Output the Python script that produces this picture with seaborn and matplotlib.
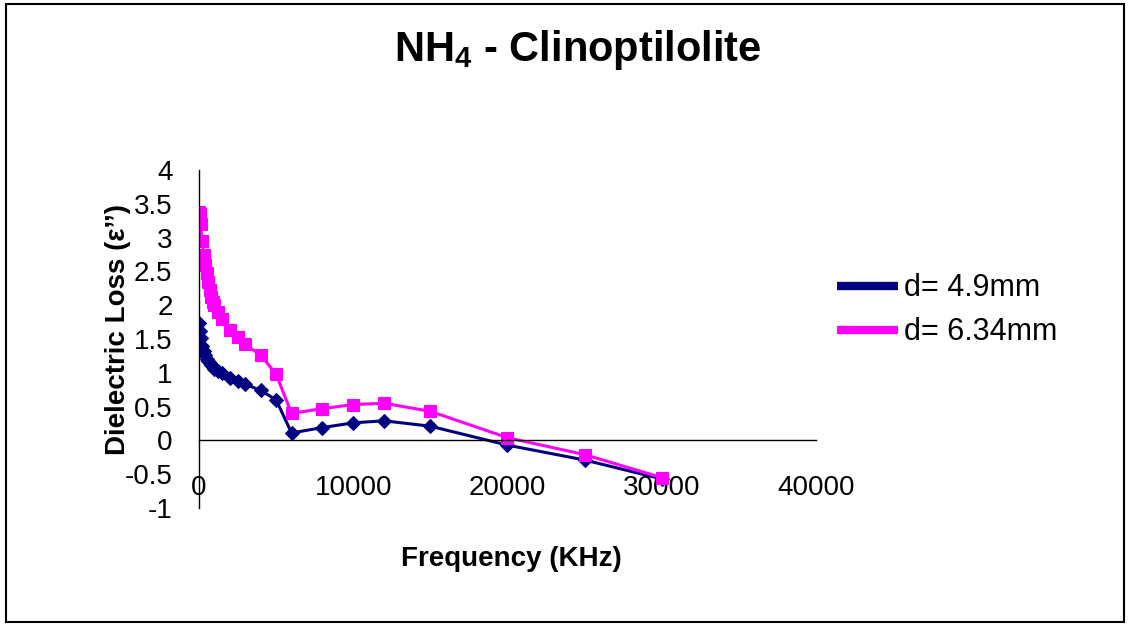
import numpy as np
import pandas as pd
import matplotlib
matplotlib.use("Agg")
import matplotlib.pyplot as plt
from matplotlib.lines import Line2D
from matplotlib.patches import Rectangle
from matplotlib.ticker import FuncFormatter, MultipleLocator
import seaborn as sns

sns.set_style("white")
plt.rcParams['font.family'] = ['Liberation Sans', 'DejaVu Sans']
plt.rcParams['mathtext.fontset'] = 'custom'
plt.rcParams['mathtext.rm'] = 'Liberation Sans'
plt.rcParams['mathtext.bf'] = 'Liberation Sans:bold'
for k in ['text.color', 'axes.labelcolor', 'xtick.labelcolor', 'ytick.labelcolor']:
    plt.rcParams[k] = 'black'

# frequency in KHz
freq = [20, 50, 100, 200, 300, 400, 500, 600, 700, 800, 900, 1000, 1200, 1500,
        2000, 2500, 3000, 4000, 5000, 6000, 8000, 10000, 12000, 15000,
        20000, 25000, 30000]
# dielectric loss, d = 4.9 mm
loss_49 = [1.73, 1.62, 1.52, 1.40, 1.32, 1.26, 1.21, 1.17, 1.14, 1.11, 1.08, 1.06, 1.03, 0.99,
           0.93, 0.88, 0.83, 0.74, 0.60, 0.11, 0.19, 0.26, 0.29, 0.21,
           -0.07, -0.29, -0.57]
# dielectric loss, d = 6.34 mm
loss_634 = [3.38, 3.35, 3.20, 2.95, 2.75, 2.60, 2.47, 2.35, 2.22, 2.12, 2.05, 2.00, 1.90, 1.80,
            1.63, 1.53, 1.42, 1.26, 0.98, 0.40, 0.47, 0.53, 0.55, 0.43,
            0.04, -0.21, -0.55]
labels = ['d= 4.9mm', 'd= 6.34mm']
colors = ['#000080', '#FF00FF']

fig = plt.figure(figsize=(11.3, 6.27), dpi=100)
ax = fig.add_axes([0.1761, 0.1898, 0.546, 0.539])

sns.lineplot(x=freq, y=loss_49, ax=ax, color=colors[0], marker='D', markersize=7.5,
             markeredgecolor=colors[0], linewidth=2.2, legend=False, sort=False)
sns.lineplot(x=freq, y=loss_634, ax=ax, color=colors[1], marker='s', markersize=9,
             markeredgecolor=colors[1], linewidth=2.2, legend=False, sort=False)

ax.set_xlim(0, 40000)
ax.set_ylim(-1, 4)
ax.xaxis.set_major_locator(MultipleLocator(10000))
ax.yaxis.set_major_locator(MultipleLocator(0.5))
ax.yaxis.set_major_formatter(FuncFormatter(lambda v, p: '%g' % v))

for s in ['top', 'right']:
    ax.spines[s].set_visible(False)
ax.spines['bottom'].set_position(('data', 0))
ax.spines['left'].set_position(('data', 0))
for s in ['bottom', 'left']:
    ax.spines[s].set_color('black')
    ax.spines[s].set_linewidth(1.0)
ax.tick_params(axis='x', direction='out', length=6, width=1, color='#555555',
               labelsize=20, pad=19)
ax.tick_params(axis='y', direction='out', length=7, width=1, color='#555555',
               labelsize=20, pad=12)
ax.set_facecolor('white')

ax.set_xlabel('Frequency (KHz)', fontsize=20, fontweight='bold')
ax.xaxis.set_label_coords(0.506, -0.112)
ax.set_ylabel('Dielectric Loss (ε’’)', fontsize=20, fontweight='bold')
ax.yaxis.set_label_coords(-0.11, 0.527)

fig.text(0.5115, 0.9027, r'NH$_\mathbf{4}$ - Clinoptilolite', fontsize=30,
         fontweight='bold', ha='center', va='baseline')

handles = [Line2D([], [], color=c, linewidth=6, solid_capstyle='butt') for c in colors]
fig.legend(handles, labels, loc='center left', bbox_to_anchor=(0.73, 0.505),
           frameon=False, fontsize=22, handlelength=2.0, handletextpad=0.2,
           labelspacing=0.45, borderaxespad=0)

fig.patches.append(Rectangle((0.005, 0.008), 0.99, 0.985, transform=fig.transFigure,
                             fill=False, edgecolor='black', linewidth=1.5))

fig.savefig('out.png', dpi=100, facecolor='white')
